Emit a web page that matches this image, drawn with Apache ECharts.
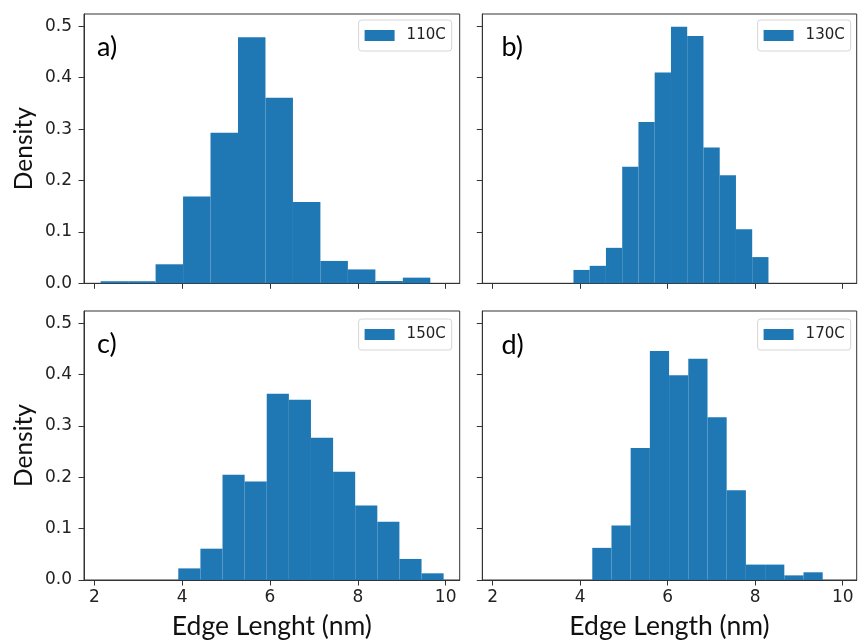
<!DOCTYPE html>
<html>
<head>
<meta charset="utf-8">
<script src="https://cdn.jsdelivr.net/npm/echarts@6/dist/echarts.min.js"></script>
<style>
html,body{margin:0;padding:0;background:#fff;}
#chart{width:860px;height:641px;}
</style>
</head>
<body>
<div id="chart"></div>
<script>
// ---- data ----
const seriesNames = ['110C', '130C', '150C', '170C'];
const panelLabels = ['a)', 'b)', 'c)', 'd)'];

const edges110 = [2.144, 2.770, 3.395, 4.021, 4.646, 5.272, 5.897, 6.523, 7.148, 7.774, 8.400, 9.025, 9.651];
const dens110  = [0.004, 0.004, 0.037, 0.169, 0.293, 0.479, 0.361, 0.158, 0.0435, 0.027, 0.0045, 0.011];

const edges130 = [3.848, 4.219, 4.590, 4.962, 5.333, 5.704, 6.076, 6.447, 6.818, 7.190, 7.561, 7.932, 8.304];
const dens130  = [0.026, 0.034, 0.069, 0.227, 0.314, 0.410, 0.499, 0.481, 0.264, 0.210, 0.105, 0.051];

const edges150 = [3.912, 4.416, 4.919, 5.423, 5.926, 6.430, 6.933, 7.437, 7.940, 8.444, 8.947, 9.451, 9.954];
const dens150  = [0.0226, 0.061, 0.205, 0.192, 0.363, 0.351, 0.277, 0.211, 0.145, 0.1135, 0.041, 0.013];

const edges170 = [4.278, 4.717, 5.155, 5.594, 6.033, 6.472, 6.911, 7.349, 7.788, 8.227, 8.666, 9.104, 9.543];
const dens170  = [0.0626, 0.106, 0.257, 0.446, 0.399, 0.431, 0.317, 0.175, 0.030, 0.030, 0.009, 0.015];

const xTicks = [2, 4, 6, 8, 10];
const yTicks = [0.0, 0.1, 0.2, 0.3, 0.4, 0.5];
const xAxisTitles = ['Edge Lenght (nm)', 'Edge Length (nm)'];
const yAxisTitle = 'Density';

// ---- layout / style ----
const allEdges = [edges110, edges130, edges150, edges170];
const allDens = [dens110, dens130, dens150, dens170];
const xMin = 1.765, xMax = 10.32, yMax = 0.524;
const BLUE = '#1f77b4';
const AX = '#333333';
const grids = [
  {left: 84, top: 14, width: 375.7, height: 269.3},
  {left: 482.3, top: 14, width: 374.4, height: 269.3},
  {left: 84, top: 311, width: 375.7, height: 269.7},
  {left: 482.3, top: 311, width: 374.4, height: 269.7}
];
const legendPos = [
  {right: 408.3, top: 20},
  {right: 9.3, top: 20},
  {right: 408.3, top: 319},
  {right: 9.3, top: 319}
];
const labelPos = [
  {left: 97, top: 34},
  {left: 501.5, top: 34},
  {left: 97, top: 331},
  {left: 501.5, top: 332}
];

function binsToData(edges, dens) {
  return dens.map((d, i) => [edges[i], edges[i + 1], d]);
}

const option = {
  animation: false,
  backgroundColor: '#ffffff',
  grid: grids.map(g => Object.assign({show: true, borderColor: AX, borderWidth: 1, containLabel: false}, g)),
  xAxis: grids.map((g, i) => ({
    gridIndex: i,
    type: 'value',
    min: xMin, max: xMax,
    splitLine: {show: false},
    axisLine: {show: true, onZero: false, lineStyle: {color: AX, width: 1}},
    axisTick: {show: true, inside: false, length: 5.5, customValues: xTicks, lineStyle: {color: AX, width: 1}},
    axisLabel: {
      show: i >= 2, customValues: xTicks, margin: 9,
      fontFamily: 'DejaVu Sans', fontSize: 17, color: '#222',
      formatter: v => String(v)
    },
    name: i >= 2 ? xAxisTitles[i - 2] : '',
    nameLocation: 'middle',
    nameGap: 33,
    nameTextStyle: {fontFamily: 'Lato', fontSize: 26.5, color: '#111'}
  })),
  yAxis: grids.map((g, i) => ({
    gridIndex: i,
    type: 'value',
    min: 0, max: yMax,
    splitLine: {show: false},
    axisLine: {show: true, onZero: false, lineStyle: {color: AX, width: 1}},
    axisTick: {show: true, inside: false, length: 5.5, customValues: yTicks, lineStyle: {color: AX, width: 1}},
    axisLabel: {
      show: i % 2 === 0, customValues: yTicks, margin: 12,
      fontFamily: 'DejaVu Sans', fontSize: 17, color: '#222',
      formatter: v => v.toFixed(1)
    },
    name: i % 2 === 0 ? yAxisTitle : '',
    nameLocation: 'middle',
    nameGap: 47,
    nameTextStyle: {fontFamily: 'Lato', fontSize: 24.5, color: '#111'}
  })),
  legend: seriesNames.map((n, i) => Object.assign({
    data: [{name: n, icon: 'rect'}],
    orient: 'vertical',
    itemWidth: 30, itemHeight: 11,
    padding: [8, 6, 8, 6],
    backgroundColor: 'rgba(255,255,255,0.8)',
    borderColor: '#d6d6d6', borderWidth: 1, borderRadius: 3,
    selectedMode: false,
    textStyle: {fontFamily: 'DejaVu Sans', fontSize: 15, color: '#222', padding: [0, 0, 0, 7]}
  }, legendPos[i])),
  series: seriesNames.map((n, i) => ({
    name: n,
    type: 'custom',
    xAxisIndex: i, yAxisIndex: i,
    color: BLUE,
    itemStyle: {color: BLUE},
    encode: {x: [0, 1], y: 2},
    data: binsToData(allEdges[i], allDens[i]),
    renderItem: function (params, api) {
      const p0 = api.coord([api.value(0), api.value(2)]);
      const p1 = api.coord([api.value(1), 0]);
      return {
        type: 'rect',
        shape: {x: p0[0], y: p0[1], width: p1[0] - p0[0], height: p1[1] - p0[1]},
        style: {fill: BLUE}
      };
    }
  })),
  graphic: panelLabels.map((t, i) => Object.assign({
    type: 'text',
    style: {text: t, font: '27px Lato', fill: '#000'}
  }, labelPos[i]))
};

const chart = echarts.init(document.getElementById('chart'), null, {renderer: 'canvas'});
chart.setOption(option);
</script>
</body>
</html>
